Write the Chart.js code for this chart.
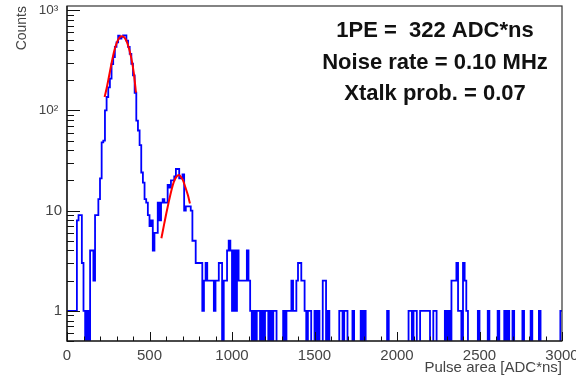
<!DOCTYPE html>
<html><head><meta charset="utf-8">
<script src="https://cdn.jsdelivr.net/npm/chart.js@4.4.1/dist/chart.umd.min.js"></script>
<style>html,body{margin:0;padding:0;background:#fff}#wrap{width:576px;height:379px}</style>
</head><body><div id="wrap"><canvas id="c" width="576" height="379"></canvas></div>
<script>
// ---- data ----
const binWidth = 10;           // ADC*ns per bin
const xRange = [0, 3000];
const counts = [
  1,1,1,1,1,1,8,9,9,3,
  1,0,1,0,4,4,2,9,9,13,
  21,48,50,100,136,170,207,290,340,430,
  478,557,520,540,560,560,497,430,367,292,
  223,150,79,63,45,24,19,13,12,9,
  7,8,4,6,6,12,8,12,13,12,
  12,18,17,20,20,22,26,26,21,21,
  23,10,11,11,11,10,5,5,3,3,
  3,3,1,2,3,2,2,2,2,1,
  2,2,3,3,0,2,2,4,5,4,
  1,4,1,4,2,2,2,2,2,4,
  2,1,0,1,0,1,1,0,1,0,
  1,1,0,1,0,1,1,0,0,0,
  0,1,0,1,1,1,2,1,1,2,
  3,3,2,2,1,0,1,1,0,0,
  1,0,1,0,0,2,2,0,1,0,
  0,0,0,0,0,1,1,0,1,1,
  0,0,0,1,0,0,0,0,1,0,
  1,0,0,0,0,0,0,0,0,0,
  0,0,0,0,1,0,0,0,0,0,
  0,0,0,0,0,0,0,1,1,0,
  1,1,0,0,1,1,1,1,1,1,
  0,0,1,1,0,0,0,0,0,1,
  0,1,0,2,2,2,3,1,1,0,
  3,2,1,0,0,0,0,0,0,1,
  0,0,0,0,0,1,0,0,0,0,
  0,1,0,0,0,1,0,1,0,0,
  1,0,0,0,0,0,1,0,0,0,
  0,1,0,0,0,0,1,0,0,0,
  0,0,0,0,0,0,0,0,0,1
];
const fit1X = [228,240,255,270,285,300,315,330,345,360,375,390,405,418];
const fit1Y = [136,165,220,295,385,465,525,550,540,495,420,330,235,150];
const fit2X = [572,590,602,618,633,648,663,679,692,703,718,733,745];
const fit2Y = [5.3,7.5,9.4,12.5,16,19.5,21.7,22.6,21.5,20,17,14.2,11.8];
const xTicks = [0,500,1000,1500,2000,2500,3000];
const xTickLabels = ['0','500','1000','1500','2000','2500','3000'];
const yTicks = [1,10,100,1000];
const yTickLabels = ['1','10','10\u00B2 ','10\u00B3 '];
const annotationLines = ['1PE =  322 ADC*ns','Noise rate = 0.10 MHz','Xtalk prob. = 0.07'];
const xTitle = 'Pulse area [ADC*ns]';
const yTitle = 'Counts';

// ---- build datasets ----
const FLOOR = 0.1; // empty bins drawn below the axis floor (clipped)
const histPts = counts.map((c, i) => ({x: xRange[0] + i * binWidth, y: c > 0 ? c : FLOOR}));
histPts.push({x: xRange[0] + counts.length * binWidth, y: counts[counts.length - 1] > 0 ? counts[counts.length - 1] : FLOOR});
const fit1Pts = fit1X.map((x, i) => ({x, y: fit1Y[i]}));
const fit2Pts = fit2X.map((x, i) => ({x, y: fit2Y[i]}));

Chart.defaults.font.family = "'Liberation Sans', Arial, Helvetica, sans-serif";

const rootStyle = {
  id: 'rootStyle',
  afterDatasetsDraw(chart) {
    const {ctx, chartArea: a, scales: {x, y}} = chart;
    ctx.save();
    // frame
    ctx.strokeStyle = '#333';
    ctx.lineWidth = 1.2;
    ctx.strokeRect(a.left, a.top, a.right - a.left, a.bottom - a.top);
    ctx.strokeStyle = '#111';
    ctx.lineWidth = 1.2;
    ctx.beginPath();
    ctx.moveTo(a.left, a.top); ctx.lineTo(a.left, a.bottom); ctx.lineTo(a.right, a.bottom);
    ctx.stroke();
    // x ticks (inside)
    ctx.lineWidth = 1;
    ctx.beginPath();
    for (let v = xRange[0]; v <= xRange[1]; v += 100) {
      const px = Math.round(x.getPixelForValue(v)) + 0.5;
      const len = (v % 500 === 0) ? 9 : 4.5;
      ctx.moveTo(px, a.bottom); ctx.lineTo(px, a.bottom - len);
    }
    // y ticks (log, inside)
    for (let d = 0.1; d < 2000; d *= 10) {
      for (let m = 1; m <= 9; m++) {
        const v = d * m;
        if (v < y.min - 1e-9 || v > y.max) continue;
        const py = Math.round(y.getPixelForValue(v)) + 0.5;
        const len = (m === 1) ? 13 : 7;
        ctx.moveTo(a.left, py); ctx.lineTo(a.left + len, py);
      }
    }
    ctx.stroke();
    // annotations
    ctx.fillStyle = '#111';
    ctx.font = "bold 22px 'Liberation Sans', Arial, sans-serif";
    ctx.textAlign = 'center';
    ctx.textBaseline = 'alphabetic';
    const cx = 435;
    annotationLines.forEach((t, i) => ctx.fillText(t, cx, 37 + i * 31.5));
    ctx.restore();
  }
};

new Chart(document.getElementById('c'), {
  type: 'line',
  data: {
    datasets: [
      {data: fit1Pts, borderColor: '#ff0000', borderWidth: 2, pointRadius: 0, cubicInterpolationMode: 'monotone', order: 0},
      {data: fit2Pts, borderColor: '#ff0000', borderWidth: 2, pointRadius: 0, cubicInterpolationMode: 'monotone', order: 0},
      {data: histPts, borderColor: '#0000ff', borderWidth: 1.8, pointRadius: 0, stepped: 'before', order: 1}
    ]
  },
  options: {
    responsive: false,
    devicePixelRatio: 1,
    animation: false,
    layout: {padding: {left: 0, right: 14, top: 6, bottom: 0}},
    plugins: {legend: {display: false}, tooltip: {enabled: false}},
    scales: {
      x: {
        type: 'linear', min: xRange[0], max: xRange[1],
        grid: {display: false, drawTicks: false}, border: {display: false},
        afterBuildTicks: s => { s.ticks = xTicks.map(v => ({value: v})); },
        ticks: {
          color: '#444', font: {size: 15}, padding: 6, maxRotation: 0, autoSkip: false,
          callback: (v) => { const k = xTicks.indexOf(v); return k >= 0 ? xTickLabels[k] : ''; }
        },
        title: {display: true, text: xTitle, align: 'end', color: '#444', font: {size: 15}, padding: {top: 0, bottom: 2}},
        afterFit: s => { s.height = 38; s.paddingLeft = 0; s.paddingRight = 0; }
      },
      y: {
        type: 'logarithmic', min: 0.5, max: 1100,
        grid: {display: false, drawTicks: false}, border: {display: false},
        afterBuildTicks: s => { s.ticks = yTicks.map(v => ({value: v})); },
        ticks: {
          color: '#444', padding: 5, autoSkip: false,
          font: c => ({size: (c.tick && c.tick.value >= 100) ? 13.5 : 15}),
          callback: (v) => { const k = yTicks.indexOf(v); return k >= 0 ? yTickLabels[k] : ''; }
        },
        title: {display: true, text: yTitle, align: 'end', color: '#444', font: {size: 14}, padding: {top: 14, bottom: 0}},
        afterFit: s => { s.width = 67; s.paddingTop = 0; s.paddingBottom = 0; }
      }
    }
  },
  plugins: [rootStyle]
});
</script>
</body></html>
